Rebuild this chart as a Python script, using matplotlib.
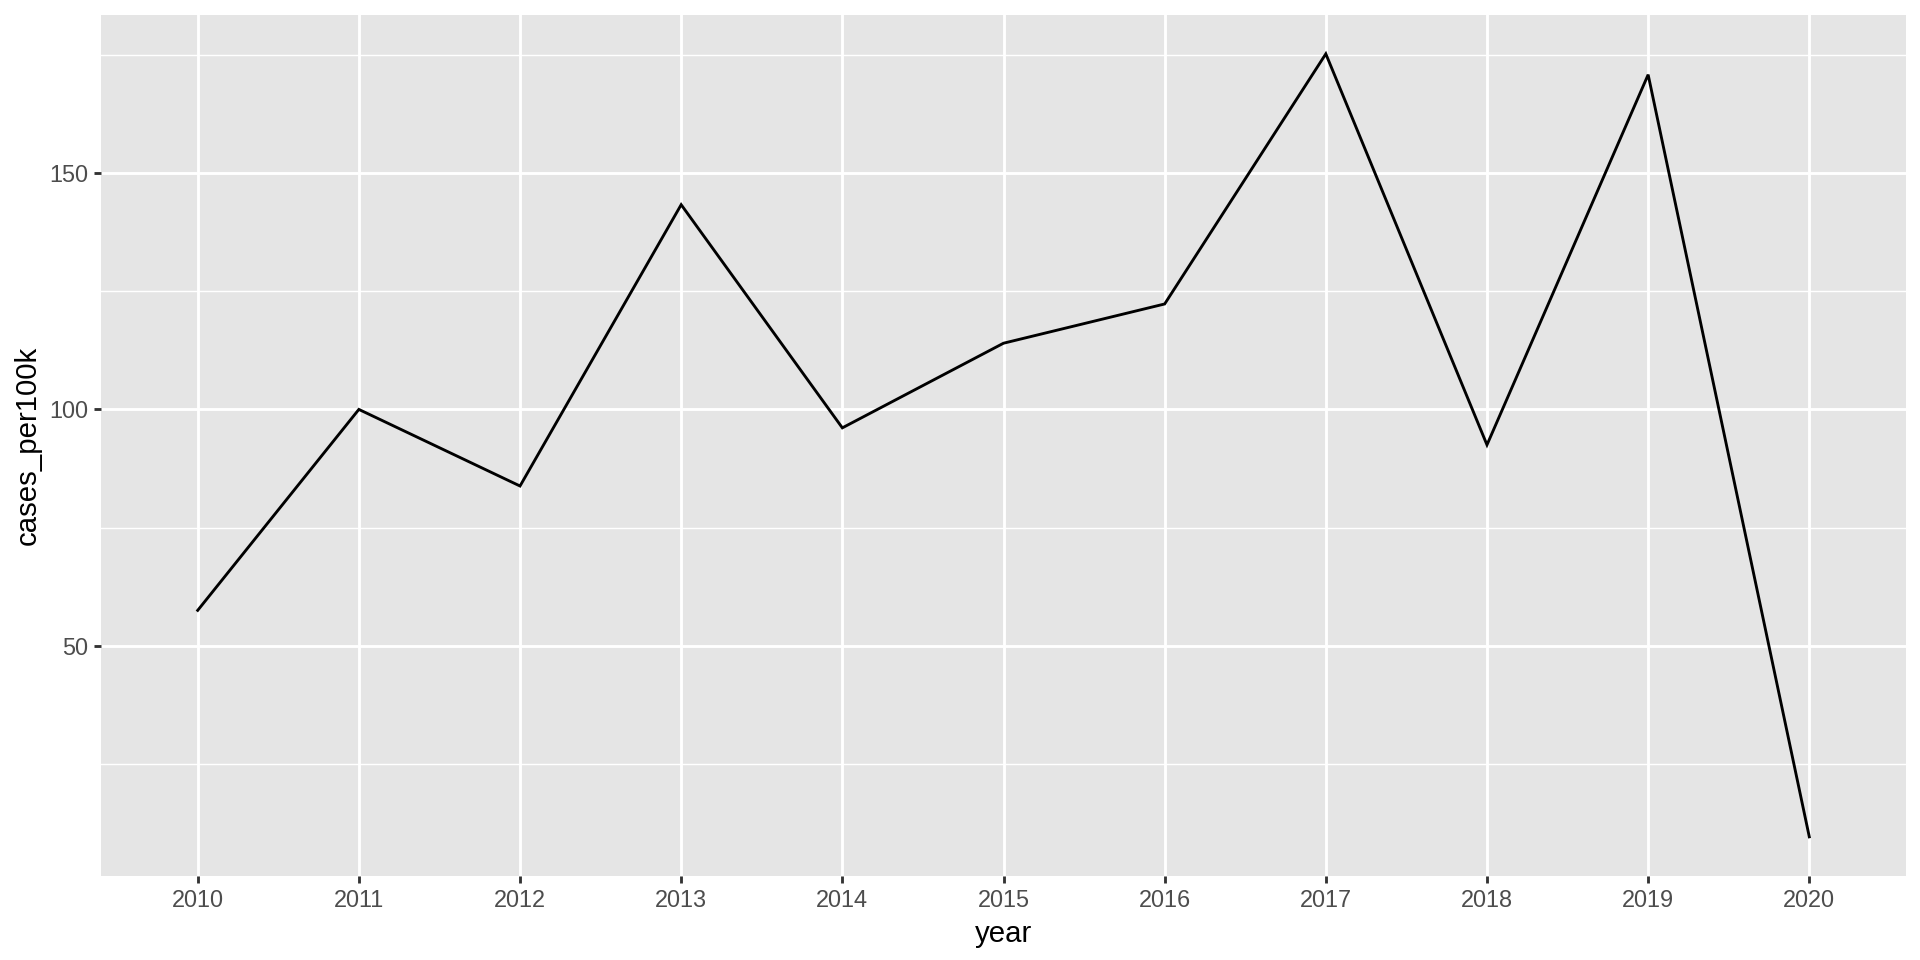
import matplotlib
matplotlib.use("Agg")
import matplotlib.pyplot as plt
from matplotlib.ticker import MultipleLocator

years = [2010, 2011, 2012, 2013, 2014, 2015, 2016, 2017, 2018, 2019, 2020]
cases_per100k = [57.5, 100.0, 83.8, 143.3, 96.1, 114.0, 122.3, 175.2, 92.5, 170.8, 9.6]
y_ticks = [50, 100, 150]
x_label = "year"
y_label = "cases_per100k"

plt.rcParams['font.family'] = ['Liberation Sans', 'DejaVu Sans']

fig = plt.figure(figsize=(10, 5), dpi=192)
ax = fig.add_axes([101/1920, 1 - 876/960, (1906-101)/1920, (876-14.7)/960])
ax.set_facecolor('#E5E5E5')

ymin, ymax = min(cases_per100k), max(cases_per100k)
pad = (ymax - ymin) * 0.05
ax.set_ylim(ymin - pad, ymax + pad)
ax.set_xlim(years[0] - 0.6, years[-1] + 0.6)

ax.set_xticks(years)
ax.set_xticklabels([str(y) for y in years])
ax.set_yticks(y_ticks)
ax.yaxis.set_minor_locator(MultipleLocator(25))

ax.grid(which='major', color='white', linewidth=1.07)
ax.grid(which='minor', axis='y', color='white', linewidth=0.53)
ax.set_axisbelow(True)

ax.plot(years, cases_per100k, color='black', linewidth=1.07, solid_joinstyle='miter')

for s in ax.spines.values():
    s.set_visible(False)

ax.tick_params(axis='both', which='major', length=2.75, width=1.07, color='#333333',
               labelcolor='#4D4D4D', labelsize=8.8, pad=2.2)
ax.tick_params(axis='y', which='minor', length=0)

ax.set_xlabel(x_label, fontsize=11, color='black', labelpad=2.75)
ax.set_ylabel(y_label, fontsize=11, color='black', labelpad=2.75)

fig.savefig('out.png', dpi=192, facecolor='white')
